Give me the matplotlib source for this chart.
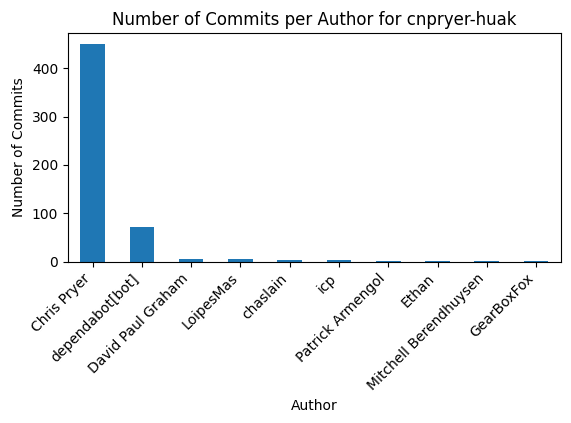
import pandas as pd
import matplotlib.pyplot as plt

authors = ["Chris Pryer", "dependabot[bot]", "David Paul Graham", "LoipesMas",
           "chaslain", "icp", "Patrick Armengol", "Ethan",
           "Mitchell Berendhuysen", "GearBoxFox"]
commits = [450, 71, 6, 5, 4, 4, 2, 1, 1, 1]

counts = pd.Series(commits, index=authors)

fig, ax = plt.subplots(figsize=(5.71, 4.23), dpi=100)
counts.plot(kind="bar", ax=ax, color="#1f77b4")
ax.set_title("Number of Commits per Author for cnpryer-huak")
ax.set_xlabel("Author")
ax.set_ylabel("Number of Commits")
plt.xticks(rotation=45, ha="right")
fig.subplots_adjust(left=0.119, right=0.982, top=0.922, bottom=0.381)
plt.savefig("out.png")
